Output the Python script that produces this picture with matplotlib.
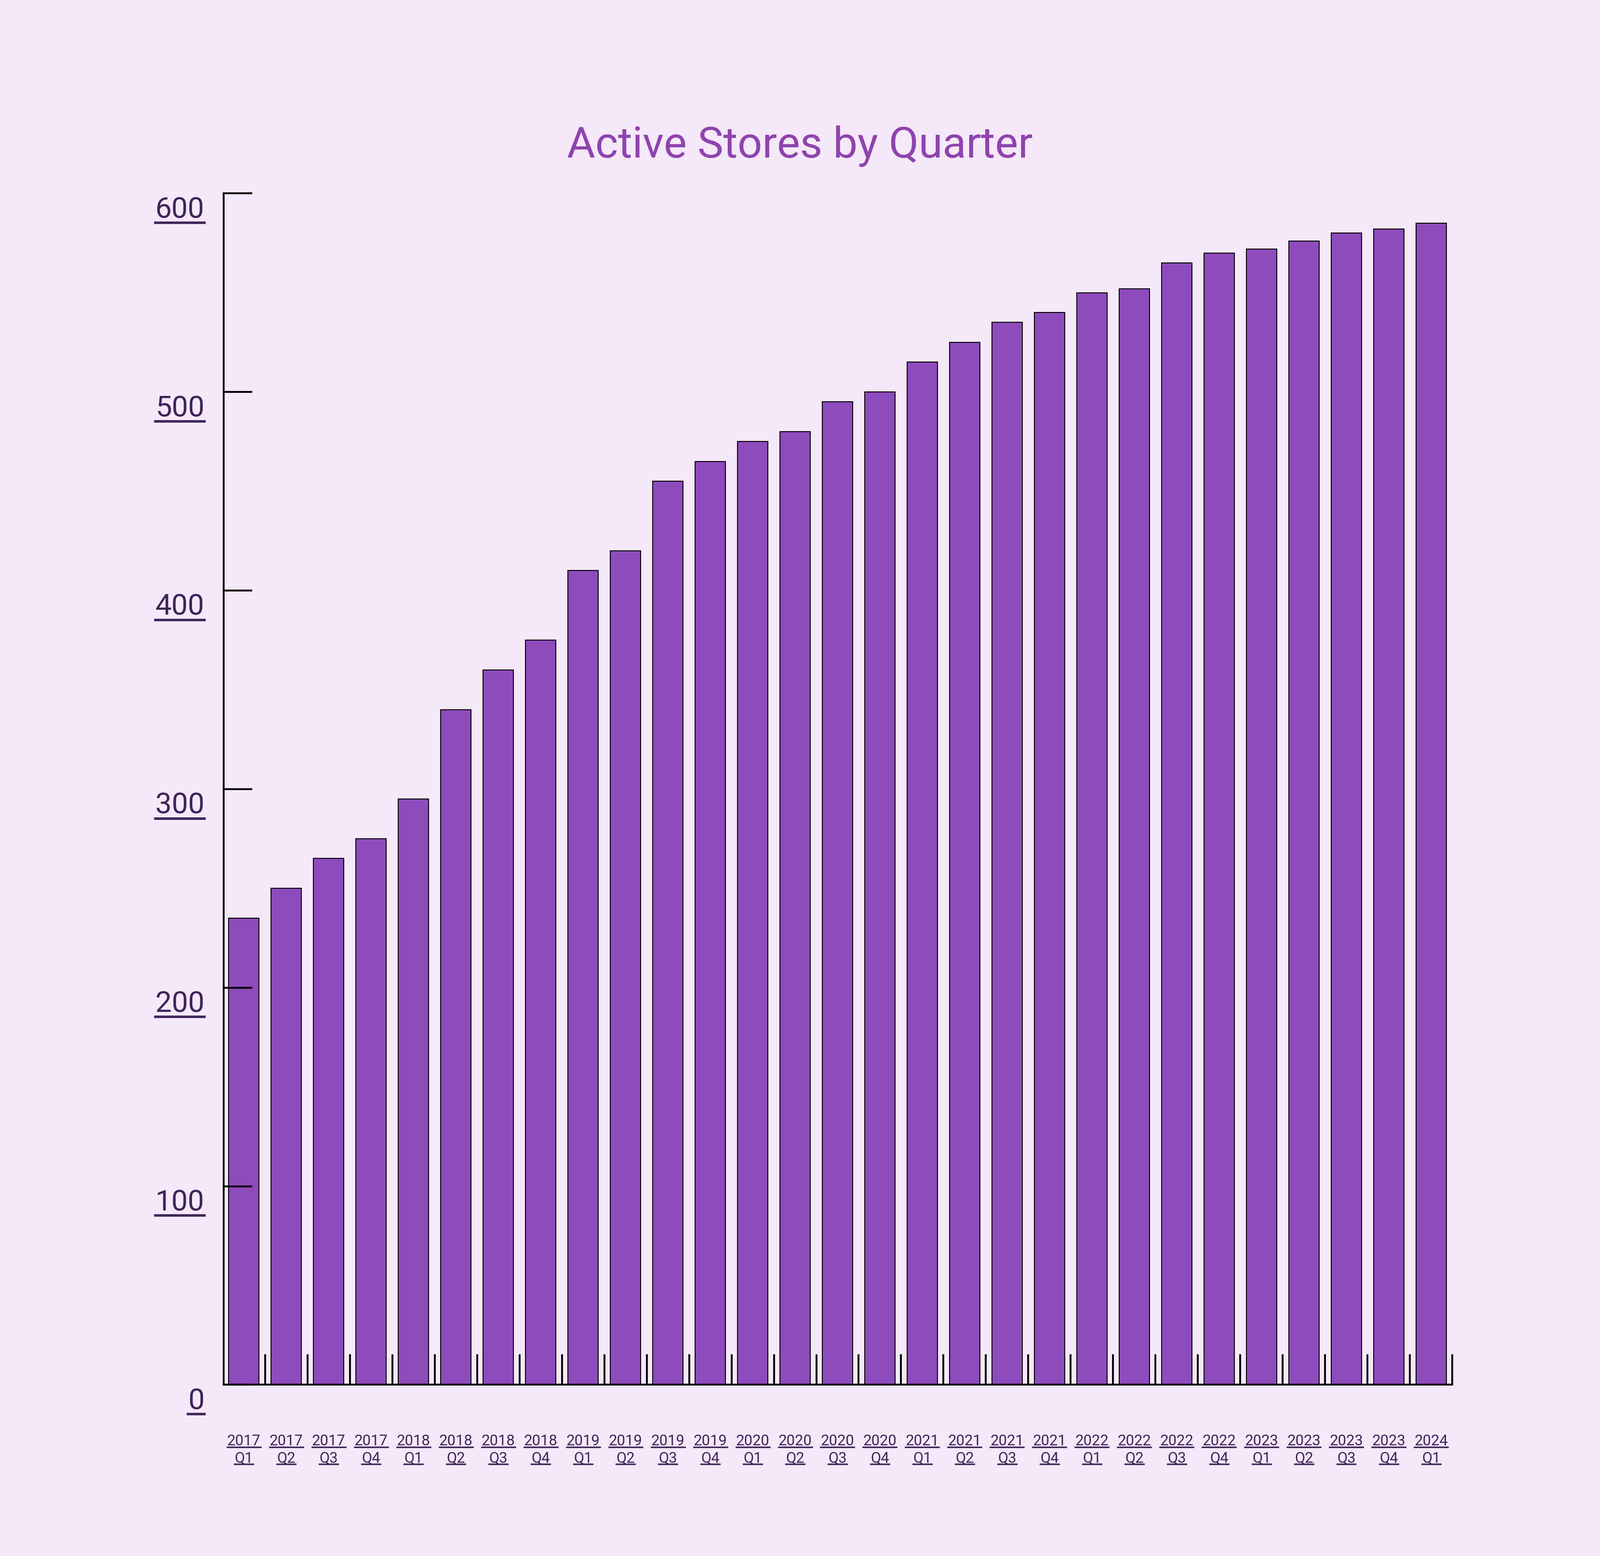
import numpy as np
import matplotlib.pyplot as plt
from matplotlib.lines import Line2D
from matplotlib.transforms import blended_transform_factory, ScaledTranslation

plt.rcParams['font.family'] = 'Roboto'

years = ['2017'] * 4 + ['2018'] * 4 + ['2019'] * 4 + ['2020'] * 4 + ['2021'] * 4 + ['2022'] * 4 + ['2023'] * 4 + ['2024']
quarters = ['Q1', 'Q2', 'Q3', 'Q4'] * 7 + ['Q1']
stores = [235, 250, 265, 275, 295, 340, 360, 375, 410, 420, 455, 465, 475, 480, 495,
          500, 515, 525, 535, 540, 550, 552, 565, 570, 572, 576, 580, 582, 585]
y_ticks = [0, 100, 200, 300, 400, 500, 600]

bg = '#F5E8F8'
bar_color = '#8E4BBC'
label_color = '#3F2357'

fig = plt.figure(figsize=(35.84, 34.87), dpi=100, facecolor=bg)
ax = fig.add_axes([0.1397, 0.110, 0.768, 0.7655], facecolor=bg)

x = np.arange(len(stores))
ax.bar(x, stores, width=0.72, color=bar_color, edgecolor='black', linewidth=1.5)

ax.set_xlim(-0.48, len(stores) - 0.5)
ax.set_ylim(0, 600)

for s in ['top', 'right']:
    ax.spines[s].set_visible(False)
for s in ['left', 'bottom']:
    ax.spines[s].set_linewidth(3)

# y axis
ax.set_yticks(y_ticks)
ax.set_yticklabels([str(v) for v in y_ticks])
ax.tick_params(axis='y', direction='in', length=46, width=3, pad=31,
               labelsize=47, labelcolor=label_color)
for lbl in ax.get_yticklabels():
    lbl.set_verticalalignment('top')
    lbl.set_transform(lbl.get_transform() + ScaledTranslation(0, -0.05, fig.dpi_scale_trans))

# x axis: ticks between bars, labels drawn as texts
ax.set_xticks(x)
ax.set_xticklabels([])
ax.tick_params(axis='x', which='major', length=0)
ax.set_xticks(list(x + 0.5), minor=True)
ax.tick_params(axis='x', which='minor', direction='in', length=49, width=3)

trans = blended_transform_factory(ax.transData, fig.transFigure)
xlabels = []
for i, (yr, q) in enumerate(zip(years, quarters)):
    xlabels.append(ax.text(i, 0.0715, yr, transform=trans, ha='center', va='baseline',
                           fontsize=24, color=label_color))
    xlabels.append(ax.text(i, 0.0605, q, transform=trans, ha='center', va='baseline',
                           fontsize=24, color=label_color))

fig.text(0.5, 0.906, 'Active Stores by Quarter', ha='center', va='center',
         fontsize=70, color='#8E44AD')

# underline all tick label texts
fig.canvas.draw()
r = fig.canvas.get_renderer()
W, H = fig.bbox.width, fig.bbox.height
for t, lw, gap in [(t, 4, 4) for t in ax.get_yticklabels()] + [(t, 2.5, 4) for t in xlabels]:
    bb = t.get_window_extent(r)
    yb = bb.y0 + gap * (0.5 if lw < 3 else 0.3)
    fig.add_artist(Line2D([bb.x0 / W, bb.x1 / W], [yb / H, yb / H],
                          transform=fig.transFigure, color=label_color, linewidth=lw))

fig.savefig('out.png', dpi=100, facecolor=bg)
